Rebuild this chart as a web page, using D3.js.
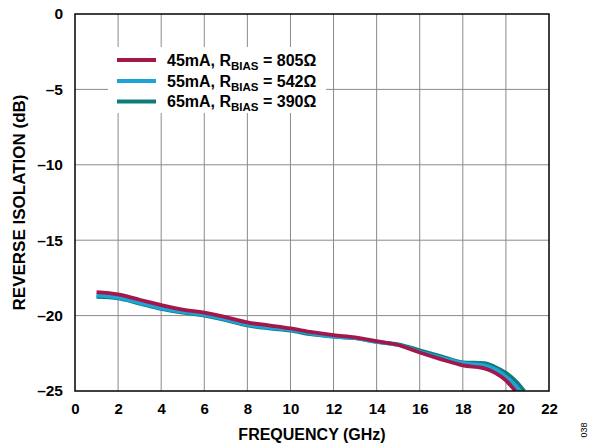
<!DOCTYPE html>
<html><head><meta charset="utf-8">
<script src="https://cdn.jsdelivr.net/npm/d3@7"></script>
<style>body{margin:0;background:#fff;}svg{display:block;font-family:"Liberation Sans",Arial,sans-serif;font-weight:bold;}</style>
</head><body>
<svg id="c" width="594" height="446"></svg>
<script>
const xTicks = [0,2,4,6,8,10,12,14,16,18,20,22];
const yTicks = [0,-5,-10,-15,-20,-25];
const freq45 = [1,2,3,4,5,6,7,8,9,10,11,12,13,14,15,16,17,18,19,19.5,20,20.2,20.45];
const val45  = [-18.45,-18.6,-18.95,-19.3,-19.6,-19.8,-20.1,-20.45,-20.65,-20.85,-21.1,-21.3,-21.45,-21.7,-21.95,-22.45,-22.9,-23.3,-23.5,-23.8,-24.3,-24.6,-25];
const freq55 = [1,2,3,4,5,6,7,8,9,10,11,12,13,14,15,16,17,18,19,19.5,20,20.35,20.65];
const val55  = [-18.65,-18.8,-19.15,-19.5,-19.75,-19.95,-20.25,-20.6,-20.8,-20.95,-21.2,-21.4,-21.5,-21.75,-21.95,-22.4,-22.8,-23.15,-23.3,-23.55,-24.05,-24.5,-25];
const freq65 = [1,2,3,4,5,6,7,8,9,10,11,12,13,14,15,16,17,18,19,19.5,20,20.5,20.85];
const val65  = [-18.75,-18.85,-19.2,-19.55,-19.8,-20.0,-20.3,-20.65,-20.85,-21.0,-21.25,-21.4,-21.5,-21.75,-21.9,-22.3,-22.7,-23.1,-23.15,-23.4,-23.8,-24.4,-25];
const seriesNames = ["45mA","55mA","65mA"];
const rbias = ["805Ω","542Ω","390Ω"];
const colors = ["#A3184A","#1EA3D8","#0E7D7A"];

const svg = d3.select("#c");
const L=75,R=549,T=14,B=391;
const x = d3.scaleLinear().domain([0,22]).range([L,R]);
const y = d3.scaleLinear().domain([0,-25]).range([T,B]);

// grid
svg.append("g").selectAll("line").data(xTicks.slice(1,-1)).join("line")
  .attr("x1",d=>x(d)).attr("x2",d=>x(d)).attr("y1",T).attr("y2",B)
  .attr("stroke","#8a8a8a").attr("stroke-width",1);
svg.append("g").selectAll("line").data(yTicks.slice(1,-1)).join("line")
  .attr("y1",d=>y(d)).attr("y2",d=>y(d)).attr("x1",L).attr("x2",R)
  .attr("stroke","#8a8a8a").attr("stroke-width",1);

// axes with labels
const xAxis = d3.axisBottom(x).tickValues(xTicks).tickSize(0).tickPadding(12).tickFormat(d3.format("d"));
const gx = svg.append("g").attr("transform",`translate(0,${B})`).call(xAxis);
gx.select(".domain").remove();
gx.selectAll("text").attr("font-size",15).attr("font-weight","bold").attr("fill","#000").attr("font-family","Liberation Sans, Arial, sans-serif");
const yAxis = d3.axisLeft(y).tickValues(yTicks).tickSize(0).tickPadding(12).tickFormat(d=>d===0?"0":"–"+Math.abs(d));
const gy = svg.append("g").attr("transform",`translate(${L},0)`).call(yAxis);
gy.select(".domain").remove();
gy.selectAll("text").attr("font-size",15.5).attr("font-weight","bold").attr("fill","#000").attr("font-family","Liberation Sans, Arial, sans-serif");

// legend background
svg.append("rect").attr("x",108).attr("y",47).attr("width",218).attr("height",66).attr("fill","#fff");

// curves
const line = d3.line().x(d=>x(d[0])).y(d=>y(d[1])).curve(d3.curveMonotoneX);
const data = [
  d3.zip(freq45,val45), d3.zip(freq55,val55), d3.zip(freq65,val65)
];
svg.append("defs").append("clipPath").attr("id","clip").append("rect").attr("x",L).attr("y",T).attr("width",R-L).attr("height",B-T);
const order=[2,1,0];
order.forEach(i=>{
  svg.append("path").datum(data[i]).attr("d",line).attr("fill","none")
    .attr("stroke",colors[i]).attr("stroke-width",3.8).attr("clip-path","url(#clip)");
});

// frame
svg.append("rect").attr("x",L).attr("y",T).attr("width",R-L).attr("height",B-T)
  .attr("fill","none").attr("stroke","#000").attr("stroke-width",1.5);

// legend
const ly=[60,81,101.5];
seriesNames.forEach((s,i)=>{
  svg.append("line").attr("x1",117).attr("x2",156).attr("y1",ly[i]).attr("y2",ly[i])
    .attr("stroke",colors[i]).attr("stroke-width",3.8);
  const t=svg.append("text").attr("x",167).attr("y",ly[i]+5.5).attr("font-size",16).attr("fill","#000");
  t.append("tspan").text(s+", R");
  t.append("tspan").attr("font-size",11.5).attr("dy",4).text("BIAS");
  t.append("tspan").attr("dy",-4).text(" = "+rbias[i]);
});

// axis titles
svg.append("text").attr("x",(L+R)/2).attr("y",439.5).attr("text-anchor","middle").attr("font-size",16).attr("fill","#000").text("FREQUENCY (GHz)");
svg.append("text").attr("transform",`translate(25,${(T+B)/2}) rotate(-90)`).attr("text-anchor","middle").attr("font-size",17).attr("fill","#000").text("REVERSE ISOLATION (dB)");
svg.append("text").attr("transform","translate(587,430) rotate(-90)").attr("text-anchor","middle").attr("font-size",9).attr("font-weight","normal").attr("fill","#000").text("038");
</script>
</body></html>
